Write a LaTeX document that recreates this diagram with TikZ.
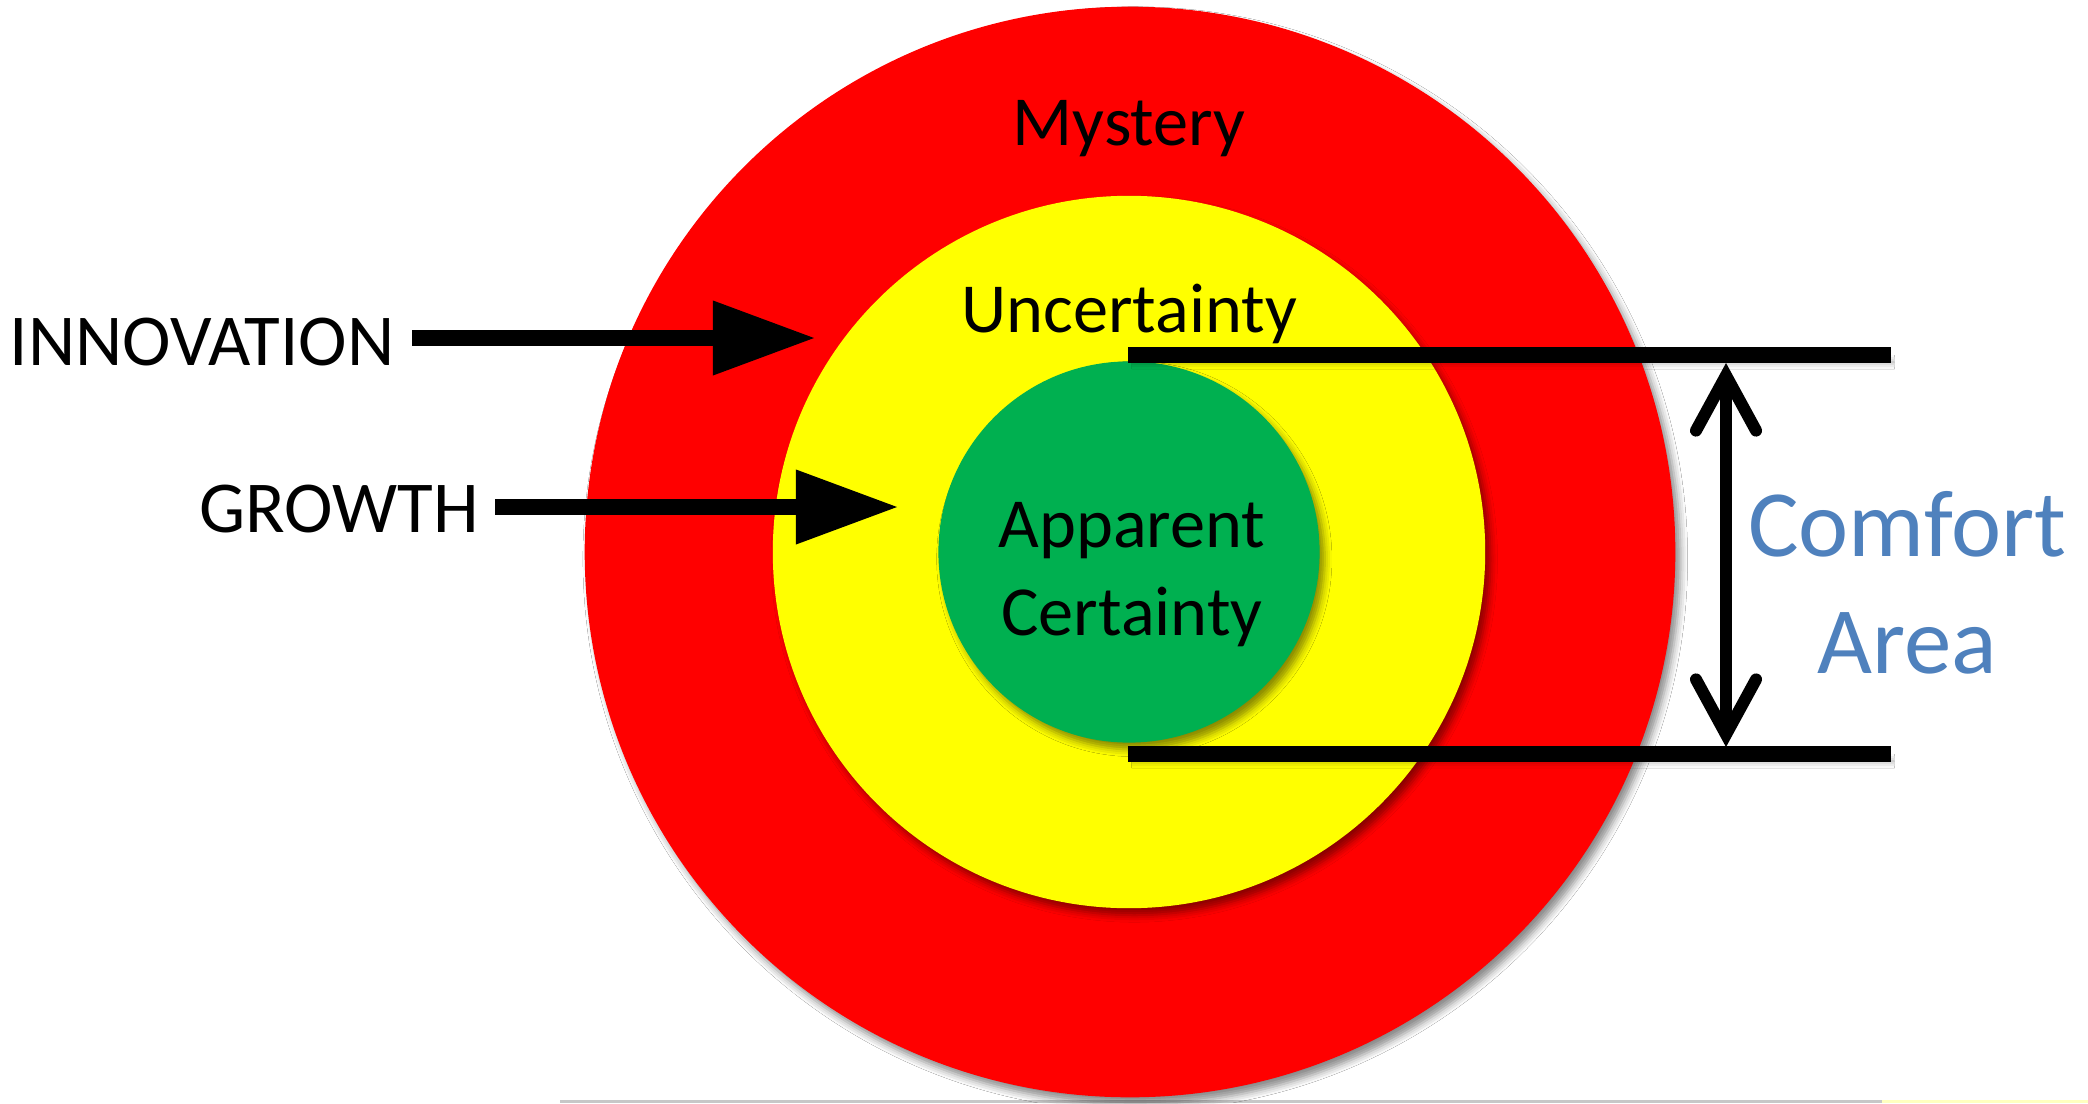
\documentclass[tikz,border=0pt]{standalone}
\usepackage{fontspec}
\setmainfont{Carlito}
\usetikzlibrary{arrows.meta,shadows.blur}
\definecolor{ringred}{HTML}{FF0000}
\definecolor{ringyel}{HTML}{FFFF00}
\definecolor{ringgrn}{HTML}{00B050}
\definecolor{comfortblue}{HTML}{4F81BD}
\begin{document}
\begin{tikzpicture}[x=0.01cm,y=-0.01cm,
  ring/.style={circle,inner sep=0pt,minimum size=#1,
    blur shadow={shadow xshift=1.5pt,shadow yshift=-2pt,shadow blur radius=2pt,shadow opacity=45}},
  lbl/.style={inner sep=0pt,anchor=base,font=\fontsize{20}{24.75}\selectfont},
  side/.style={inner sep=0pt,anchor=base west,font=\fontsize{20.8}{25}\selectfont},
  fatarrow/.style={line width=0.165cm,-{Triangle[length=1.01cm,width=0.75cm,fill=black,line width=0pt]}},
  bar/.style={line width=0.16cm,
    blur shadow={shadow xshift=1pt,shadow yshift=-2pt,shadow blur radius=2pt,shadow opacity=40}},
  barbtip/.tip={Straight Barb[length=0.55cm,width=0.6cm,line cap=round,line join=miter]},
  dblarrow/.style={line width=0.12cm,{barbtip}-{barbtip}}
]
\fill[white] (0,0) rectangle (2088,1103);
\useasboundingbox (0,0) rectangle (2088,1103);

% faint bottom rule
\draw[line width=0.03cm,black!22] (560,1101) -- (1882,1101);
\draw[line width=0.03cm,ringyel!25] (1882,1101) -- (2088,1101);

% rings
\node[ring=10.9cm,fill=ringred] (red) at (1130,552) {};
\node[ring=7.12cm,fill=ringyel] (yellow) at (1129,552) {};
\node[ring=3.81cm,fill=ringgrn] (green) at (1129,552) {};

% comfort bars
\coordinate (topL) at (1128,355);
\coordinate (topR) at (1891,355);
\coordinate (botL) at (1128,754);
\coordinate (botR) at (1891,754);
\draw[bar] (topL) -- (topR);
\draw[bar] (botL) -- (botR);

% double arrow
\coordinate (dblT) at (1726,363);
\coordinate (dblB) at (1726,747);
\draw[dblarrow] (dblT) -- (dblB);

% labels in rings
\node[lbl] (mystery) at (1129,145) {Mystery};
\node[lbl] (uncert) at (1129,332) {Uncertainty};
\node[lbl,align=center] (appc) at (1132,635) {Apparent\\Certainty};

% side labels and arrows
\node[side] (innov) at (9,365) {INNOVATION};
\node[side] (growth) at (199,532) {GROWTH};
\coordinate (innovS) at (412,338);
\coordinate (innovE) at (814,338);
\coordinate (growS) at (495,507);
\coordinate (growE) at (897,507);
\draw[fatarrow] (innovS) -- (innovE);
\draw[fatarrow] (growS) -- (growE);

% comfort area
\node[inner sep=0pt,anchor=base,align=center,text=comfortblue,
  font=\fontsize{27}{33}\selectfont] (comfort) at (1907,673) {Comfort\\Area};
\end{tikzpicture}
\end{document}
